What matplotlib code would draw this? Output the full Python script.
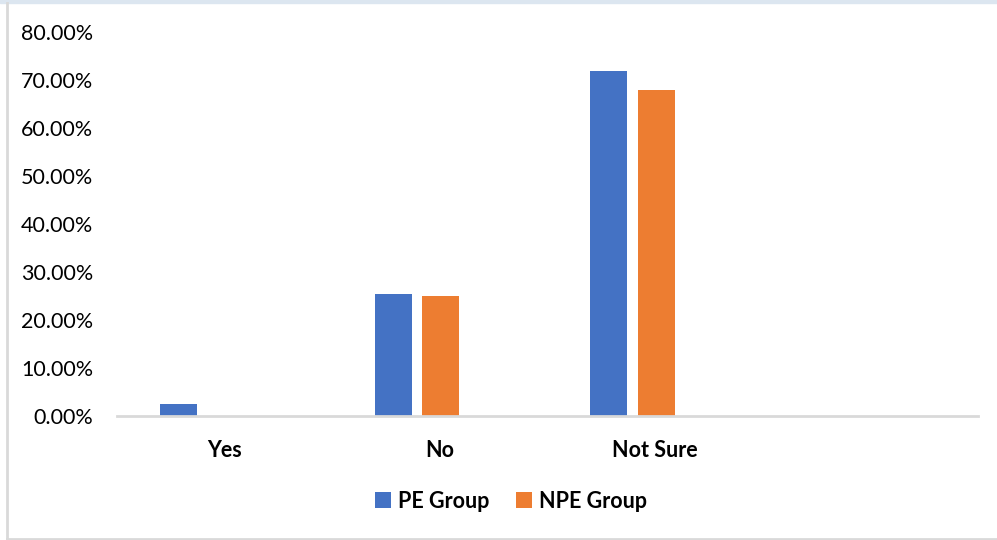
import numpy as np
import matplotlib
matplotlib.use("Agg")
import matplotlib.pyplot as plt
from matplotlib.ticker import PercentFormatter
from matplotlib.patches import Rectangle

# data (percent)
categories = ["Yes", "No", "Not Sure", ""]
pe_group = [2.5, 25.4, 71.9, np.nan]
npe_group = [0.0, 25.0, 67.9, np.nan]
y_ticks = [0, 10, 20, 30, 40, 50, 60, 70, 80]

blue = "#4472C4"
orange = "#ED7D31"

plt.rcParams['font.family'] = ['Lato', 'DejaVu Sans']

fig = plt.figure(figsize=(9.97, 5.40), dpi=100)

# chart frame like the screenshot
fig.patches.append(Rectangle((0, 0.994), 1, 0.006, transform=fig.transFigure,
                             color="#dce6f0", zorder=0))
fig.add_artist(plt.Line2D([7 / 997, 7 / 997], [0, 0.994], transform=fig.transFigure,
                          color="#d9d9d9", lw=2))
fig.add_artist(plt.Line2D([7 / 997, 1], [1.5 / 540, 1.5 / 540], transform=fig.transFigure,
                          color="#d9d9d9", lw=2))

ax = fig.add_axes([117 / 997, 124 / 540, 861 / 997, 384 / 540])

x = np.arange(len(categories))
w = 0.172
ax.bar(x - 0.216, pe_group, w, color=blue, label="PE Group")
ax.bar(x + 0.005, npe_group, w, color=orange, label="NPE Group")

ax.set_xlim(-0.5, len(categories) - 0.5)
ax.set_ylim(0, 80)
ax.set_yticks(y_ticks)
ax.yaxis.set_major_formatter(PercentFormatter(decimals=2))
ax.set_xticks(x)
ax.set_xticklabels(categories, fontweight="bold")

ax.tick_params(axis="y", length=0, pad=17, labelsize=15.5, labelcolor="#000000")
ax.tick_params(axis="x", length=0, pad=17, labelsize=15.5)

for s in ["top", "right", "left"]:
    ax.spines[s].set_visible(False)
ax.spines["bottom"].set_color("#d9d9d9")
ax.spines["bottom"].set_linewidth(2)

fig.legend(loc="center", bbox_to_anchor=(511 / 997, 1 - 501 / 540), ncol=2,
           frameon=False, prop={"weight": "bold", "size": 15.5},
           handlelength=0.75, handleheight=0.75, handletextpad=0.35, columnspacing=1.2)

fig.savefig("out.png", dpi=100, facecolor="white")
